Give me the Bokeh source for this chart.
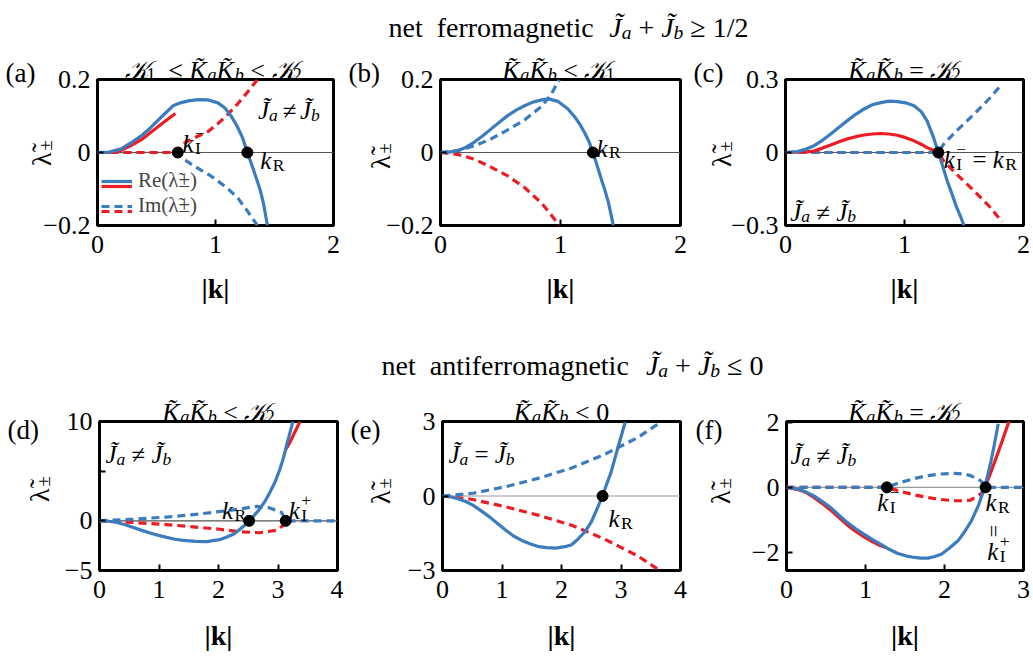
import math
from bokeh.plotting import figure
from bokeh.models import (Range1d, FixedTicker, Label, Span, Legend, LegendItem,
                          GridBox, Spacer)
from bokeh.embed import file_html
from bokeh.resources import INLINE

SERIF = "Liberation Serif"
BLUE = "#3b7cbf"
RED = "#ec1c24"

# ---------------- data ----------------
# (a)
a_re_blue_k = [0, 0.10, 0.20, 0.30, 0.38, 0.45, 0.55, 0.64, 0.70, 0.78, 0.86, 0.94, 1.02, 1.08, 1.13, 1.18, 1.23, 1.27, 1.32, 1.38, 1.41, 1.44]
a_re_blue_v = [0, 0.001, 0.010, 0.030, 0.048, 0.068, 0.100, 0.128, 0.136, 0.142, 0.145, 0.144, 0.136, 0.122, 0.101, 0.074, 0.040, 0.0, -0.045, -0.104, -0.145, -0.200]
a_re_red_k = [0, 0.10, 0.20, 0.30, 0.38, 0.45, 0.55, 0.66]
a_re_red_v = [0, 0.0005, 0.006, 0.022, 0.037, 0.055, 0.080, 0.107]
a_im_red_k = [0, 0.68, 0.72, 0.78, 0.86, 0.94, 1.02, 1.10, 1.19, 1.27, 1.355]
a_im_red_v = [0, 0, 0.022, 0.034, 0.046, 0.058, 0.079, 0.103, 0.134, 0.165, 0.200]
a_im_blue_k = [0, 0.68, 0.73, 0.80, 0.87, 0.95, 1.02, 1.10, 1.19, 1.27, 1.355]
a_im_blue_v = [0, 0, -0.018, -0.033, -0.047, -0.062, -0.078, -0.098, -0.125, -0.160, -0.200]
a_dot_k = [0.68, 1.27]
a_dot_v = [0, 0]

# (b)
b_re_k = [0, 0.07, 0.14, 0.21, 0.28, 0.35, 0.42, 0.49, 0.56, 0.63, 0.70, 0.77, 0.84, 0.90, 0.98, 1.06, 1.12, 1.16, 1.20, 1.24, 1.27, 1.30, 1.34, 1.37, 1.40, 1.42, 1.44]
b_re_v = [0, 0.001, 0.005, 0.014, 0.028, 0.045, 0.064, 0.083, 0.101, 0.116, 0.128, 0.138, 0.144, 0.147, 0.140, 0.120, 0.097, 0.078, 0.055, 0.028, 0, -0.030, -0.073, -0.103, -0.138, -0.168, -0.200]
b_im_k = [0, 0.14, 0.28, 0.42, 0.56, 0.70, 0.84, 0.92, 0.99]
b_im_blue_v = [0, 0.005, 0.018, 0.037, 0.062, 0.089, 0.126, 0.158, 0.200]
b_im_red_v = [0, -0.005, -0.018, -0.040, -0.064, -0.096, -0.138, -0.170, -0.200]
b_dot_k = [1.27]
b_dot_v = [0]

# (c)
c_re_blue_k = [0, 0.10, 0.17, 0.24, 0.31, 0.38, 0.45, 0.52, 0.59, 0.66, 0.73, 0.80, 0.87, 0.94, 1.01, 1.08, 1.14, 1.19, 1.245, 1.285, 1.32, 1.36, 1.40, 1.44, 1.47, 1.50]
c_re_blue_v = [0, 0.004, 0.013, 0.028, 0.050, 0.076, 0.104, 0.131, 0.157, 0.179, 0.196, 0.205, 0.211, 0.209, 0.204, 0.192, 0.168, 0.130, 0.060, 0.0, -0.055, -0.118, -0.172, -0.228, -0.262, -0.300]
c_re_red_k = [0, 0.17, 0.24, 0.31, 0.38, 0.45, 0.52, 0.59, 0.66, 0.73, 0.80, 0.87, 0.94, 1.01, 1.08, 1.14, 1.19, 1.24, 1.285]
c_re_red_v = [0, 0.002, 0.006, 0.018, 0.031, 0.044, 0.056, 0.065, 0.072, 0.076, 0.078, 0.076, 0.071, 0.061, 0.048, 0.034, 0.020, 0.009, 0.0]
c_im_k = [0, 1.285, 1.33, 1.44, 1.58, 1.72, 1.82]
c_im_blue_v = [0, 0, 0.035, 0.090, 0.155, 0.225, 0.282]
c_im_red_v = [0, 0, -0.035, -0.090, -0.155, -0.225, -0.285]
c_dot_k = [1.285]
c_dot_v = [0]

# (d)
d_re_blue_k = [0, 0.15, 0.30, 0.43, 0.57, 0.71, 0.85, 0.99, 1.13, 1.27, 1.41, 1.62, 1.80, 2.02, 2.13, 2.25, 2.33, 2.40, 2.46, 2.515, 2.60, 2.69, 2.78, 2.86, 2.95, 3.03, 3.09, 3.14, 3.20, 3.25]
d_re_blue_v = [0, -0.04, -0.17, -0.40, -0.67, -0.96, -1.23, -1.46, -1.67, -1.85, -1.97, -2.07, -2.10, -1.90, -1.65, -1.35, -1.0, -0.65, -0.35, 0, 0.55, 1.17, 1.95, 2.83, 3.9, 5.17, 6.3, 7.5, 8.85, 10.0]
d_re_red_k = [3.13, 3.20, 3.28, 3.37]
d_re_red_v = [7.2, 7.9, 8.9, 10.0]
d_im_blue_k = [0, 0.57, 1.13, 1.69, 2.25, 2.64, 2.86, 3.06, 3.13, 4.0]
d_im_blue_v = [0, 0.17, 0.38, 0.70, 1.10, 1.45, 1.30, 0.85, 0, 0]
d_im_red_k = [0, 0.57, 1.13, 1.69, 2.02, 2.36, 2.69, 2.97, 3.08, 3.13]
d_im_red_v = [0, -0.17, -0.38, -0.67, -0.85, -1.10, -1.20, -0.95, -0.50, 0]
d_dot_k = [2.515, 3.13]
d_dot_v = [0, 0]

# (e)
e_re_k = [0, 0.12, 0.24, 0.38, 0.51, 0.65, 0.79, 0.93, 1.07, 1.20, 1.34, 1.48, 1.62, 1.75, 1.90, 2.06, 2.17, 2.28, 2.39, 2.50, 2.61, 2.69, 2.77, 2.83, 2.94, 3.07]
e_re_v = [0, -0.02, -0.10, -0.21, -0.37, -0.60, -0.84, -1.12, -1.39, -1.62, -1.80, -1.93, -2.04, -2.08, -2.10, -2.04, -1.96, -1.73, -1.45, -1.05, -0.45, 0, 0.55, 0.93, 1.88, 2.97]
e_im_k = [0, 0.51, 1.07, 1.62, 2.17, 2.72, 3.28, 3.62]
e_im_blue_v = [0, 0.11, 0.38, 0.72, 1.13, 1.67, 2.35, 2.90]
e_im_red_v = [0, -0.14, -0.44, -0.78, -1.18, -1.73, -2.41, -2.95]
e_dot_k = [2.69]
e_dot_v = [0]

# (f)
f_re_blue_k = [0, 0.136, 0.24, 0.347, 0.45, 0.559, 0.665, 0.771, 0.877, 0.983, 1.09, 1.19, 1.30, 1.41, 1.51, 1.62, 1.70, 1.79, 1.875, 1.96, 2.06, 2.17, 2.255, 2.34, 2.43, 2.51, 2.59, 2.63, 2.68]
f_re_blue_v = [0, -0.05, -0.13, -0.26, -0.43, -0.62, -0.85, -1.08, -1.27, -1.44, -1.60, -1.74, -1.90, -2.03, -2.10, -2.15, -2.17, -2.17, -2.12, -2.05, -1.87, -1.64, -1.36, -1.03, -0.55, 0, 0.82, 1.3, 1.95]
f_re_red1_k = [0, 0.136, 0.24, 0.347, 0.45, 0.559, 0.665, 0.771, 0.877, 0.983, 1.09, 1.19, 1.27]
f_re_red1_v = [0, -0.06, -0.15, -0.31, -0.49, -0.70, -0.93, -1.16, -1.35, -1.52, -1.67, -1.79, -1.85]
f_re_red2_k = [2.51, 2.58, 2.65, 2.73, 2.82]
f_re_red2_v = [0, 0.42, 0.88, 1.42, 2.05]
f_im_blue_k = [0, 1.27, 1.44, 1.62, 1.78, 1.95, 2.12, 2.25, 2.33, 2.46, 2.52, 3.0]
f_im_blue_v = [0, 0, 0.15, 0.27, 0.36, 0.41, 0.43, 0.41, 0.36, 0.20, 0, 0]
f_im_red_k = [0, 1.27, 1.44, 1.62, 1.78, 1.95, 2.12, 2.25, 2.33, 2.46, 2.52]
f_im_red_v = [0, 0, -0.12, -0.23, -0.31, -0.37, -0.41, -0.41, -0.39, -0.20, 0]
f_dot_k = [1.27, 2.52]
f_dot_v = [0, 0]

# tick values and labels
ab_yticks = [-0.2, 0, 0.2]
ab_ylabels = ["−0.2", "0", "0.2"]
c_yticks = [-0.3, 0, 0.3]
c_ylabels = ["−0.3", "0", "0.3"]
d_yticks = [-5, 0, 5, 10]
d_ylabels = ["−5", "0", "", "10"]
e_yticks = [-3, 0, 3]
e_ylabels = ["−3", "0", "3"]
f_yticks = [-2, 0, 2]
f_ylabels = ["−2", "0", "2"]
x2_ticks = [0, 1, 2]
x3_ticks = [0, 1, 2, 3]
x4_ticks = [0, 1, 2, 3, 4]

# ---------------- geometry (pixels) ----------------
COL_W = [343, 345, 342]
TOTAL_W = sum(COL_W)
SP1, SP2 = 40, 55
ROW1 = dict(top=39, fh=146, bottom=95)
ROW2 = dict(top=46, fh=149, bottom=90)
ROW1_H = ROW1["top"] + ROW1["fh"] + ROW1["bottom"]
ROW2_H = ROW2["top"] + ROW2["fh"] + ROW2["bottom"]
TOTAL_H = SP1 + ROW1_H + SP2 + ROW2_H

# ---------------- text helpers ----------------
NB = "\u00a0"
CW = {" ": .25, NB: .25, "n": .5, "e": .444, "t": .278, "f": .333, "r": .333, "o": .5,
      "m": .778, "a": .5, "g": .5, "i": .278, "c": .444, "k": .5, "b": .5,
      "K": .70, "J": .44, "R": .667, "I": .333, "(": .333, ")": .333,
      "+": .564, "=": .564, "<": .564, "≤": .549, "≥": .549, "≠": .549,
      "−": .564, "/": .278, "𝒦": .82, "λ": .55, "±": .564, "\u0303": 0.0, "\u2009": .17}


def tw(s, size):
    return sum(CW.get(ch, 0.5) for ch in s) * size


def mt(p, x, y, parts, size=25, align="left", xo=0.0, yo=0.0):
    placed = []
    cur = 0.0
    prev = (0.0, 0.0)
    for text, role in parts:
        small = role not in ("r", "i")
        s = size * 0.7 if small else size
        w = tw(text, s)
        if role == "supo":
            sx = prev[0]
            cur = prev[0] + max(prev[1], w)
        else:
            sx = cur
            cur = sx + w
        if role in ("sub", "subi"):
            dy = -0.17 * size
        elif role in ("sup", "supo"):
            dy = 0.40 * size
        else:
            dy = 0.0
        placed.append((text, role, s, sx, dy))
        prev = (sx, w)
    shift = {"left": 0.0, "center": -cur / 2, "right": -cur}[align]
    for text, role, s, sx, dy in placed:
        p.add_layout(Label(x=x, y=y, x_offset=xo + shift + sx, y_offset=yo + dy,
                           text=text.replace(" ", NB),
                           text_font=SERIF, text_font_size=f"{s:.1f}px",
                           text_font_style="italic" if role in ("i", "subi") else "normal",
                           text_align="left", text_baseline="alphabetic", text_color="#000000"))


def ylab(p, cx, cy):
    s1, s2 = 28, 19
    w1 = 0.55 * s1
    start = -(w1 + 0.6 * s2) / 2
    p.add_layout(Label(x=cx, y=cy, x_offset=9, y_offset=start, text="λ\u0303", angle=math.pi / 2,
                       text_font=SERIF, text_font_size=f"{s1}px", text_align="left",
                       text_baseline="alphabetic", text_color="#000000"))
    p.add_layout(Label(x=cx, y=cy, x_offset=13, y_offset=start + w1, text="±", angle=math.pi / 2,
                       text_font=SERIF, text_font_size=f"{s2}px", text_align="left",
                       text_baseline="alphabetic", text_color="#000000"))


def no_align(p):
    if "frame_align" in p.properties():
        p.frame_align = False
    return p


def panel(xr, yr, xt, yt, ylabels, rowspec, ml, fw, zero_color, xstand, lstand, colw):
    p = figure(width=colw, height=rowspec["top"] + rowspec["fh"] + rowspec["bottom"],
               x_range=Range1d(*xr), y_range=Range1d(*yr),
               output_backend="svg", toolbar_location=None,
               min_border_left=ml, min_border_right=colw - ml - fw,
               min_border_top=rowspec["top"], min_border_bottom=rowspec["bottom"])
    no_align(p)
    p.title.visible = False
    p.border_fill_color = None
    p.xgrid.visible = False
    p.ygrid.visible = False
    p.outline_line_color = "black"
    p.outline_line_width = 3
    p.xaxis.ticker = FixedTicker(ticks=xt)
    p.yaxis.ticker = FixedTicker(ticks=yt)
    p.xaxis.major_label_overrides = {t: str(t) for t in xt}
    p.yaxis.major_label_overrides = dict(zip(yt, ylabels))
    for ax in (p.xaxis[0], p.yaxis[0]):
        ax.axis_line_color = None
        ax.major_tick_in = 6
        ax.major_tick_out = 0
        ax.major_tick_line_width = 2
        ax.major_tick_line_color = "black"
        ax.minor_tick_line_color = None
        ax.major_label_text_font = SERIF
        ax.major_label_text_font_size = "26px"
        ax.major_label_text_color = "black"
    p.yaxis.major_label_standoff = 7
    p.xaxis.major_label_standoff = xstand
    p.xaxis.axis_label = "|k|"
    p.xaxis.axis_label_text_font = SERIF
    p.xaxis.axis_label_text_font_size = "28px"
    p.xaxis.axis_label_text_font_style = "bold"
    p.xaxis.axis_label_text_color = "black"
    p.xaxis.axis_label_standoff = lstand
    zero = Span(location=0, dimension="width", line_color=zero_color, line_width=1.2)
    zero.level = "underlay"
    p.add_layout(zero)
    return p


def sol(p, k, v, c):
    return p.line(k, v, line_color=c, line_width=3.2)


def das(p, k, v, c):
    return p.line(k, v, line_color=c, line_width=3.2, line_dash="8 5")


def dots(p, k, v):
    p.scatter(k, v, size=11, color="black")


KAKB = [("K\u0303", "i"), ("a", "subi"), ("K\u0303", "i"), ("b", "subi")]
JNE = [("J\u0303", "i"), ("a", "subi"), (" ≠ ", "r"), ("J\u0303", "i"), ("b", "subi")]
KR = [("k", "i"), ("R", "sub")]

# ---------------- (a) ----------------
pa = panel((0, 2), (-0.2, 0.2), x2_ticks, ab_yticks, ab_ylabels, ROW1, 97, 236, "#555555", 10, 17, COL_W[0])
a_ib = das(pa, a_im_blue_k, a_im_blue_v, BLUE)
a_ir = das(pa, a_im_red_k, a_im_red_v, RED)
a_rr = sol(pa, a_re_red_k, a_re_red_v, RED)
a_rb = sol(pa, a_re_blue_k, a_re_blue_v, BLUE)
dots(pa, a_dot_k, a_dot_v)
mt(pa, 1.36, 0.115, [("J\u0303", "i"), ("a", "subi"), ("\u2009≠\u2009", "r"), ("J\u0303", "i"), ("b", "subi")], size=25)
mt(pa, 0.72, 0.025, [("k", "i"), ("I", "sub"), ("−", "supo")], size=25)
mt(pa, 1.38, -0.022, KR, size=25)
for items, loc in (([("Re(λ\u0303±)", a_rb), ("Im(λ\u0303±)", a_ib)], (4, 7)),
                   ([(NB, a_rr), (NB, a_ir)], (4, 2))):
    pa.add_layout(Legend(items=[LegendItem(label=t, renderers=[r]) for t, r in items],
                         location=loc, background_fill_alpha=0, border_line_color=None,
                         label_text_font=SERIF, label_text_font_size="21px",
                         glyph_width=31, glyph_height=20, label_standoff=6, label_height=20,
                         spacing=0, padding=0, margin=0))

# ---------------- (b) ----------------
pb = panel((0, 2), (-0.2, 0.2), x2_ticks, ab_yticks, ab_ylabels, ROW1, 97, 240, "#555555", 10, 17, COL_W[1])
das(pb, b_im_k, b_im_red_v, RED)
das(pb, b_im_k, b_im_blue_v, BLUE)
sol(pb, b_re_k, b_re_v, BLUE)
dots(pb, b_dot_k, b_dot_v)
mt(pb, 1.30, 0.012, KR, size=25)

# ---------------- (c) ----------------
pc = panel((0, 2), (-0.3, 0.3), x2_ticks, c_yticks, c_ylabels, ROW1, 97, 238, "#555555", 10, 17, COL_W[2])
das(pc, c_im_k, c_im_red_v, RED)
das(pc, c_im_k, c_im_blue_v, BLUE)
sol(pc, c_re_red_k, c_re_red_v, RED)
sol(pc, c_re_blue_k, c_re_blue_v, BLUE)
dots(pc, c_dot_k, c_dot_v)
mt(pc, 1.33, -0.03, [("k", "i"), ("I", "sub"), ("−", "supo"), (" = ", "r"), ("k", "i"), ("R", "sub")], size=25)
mt(pc, 0.04, -0.245, JNE, size=25)

# ---------------- (d) ----------------
pd_ = panel((0, 4), (-5, 10), x4_ticks, d_yticks, d_ylabels, ROW2, 99, 238, "#555555", 10, 19, COL_W[0])
das(pd_, d_im_red_k, d_im_red_v, RED)
das(pd_, d_im_blue_k, d_im_blue_v, BLUE)
sol(pd_, d_re_red_k, d_re_red_v, RED)
sol(pd_, d_re_blue_k, d_re_blue_v, BLUE)
dots(pd_, d_dot_k, d_dot_v)
mt(pd_, 0.1, 6.7, JNE, size=25)
mt(pd_, 2.06, 1.0, KR, size=25)
mt(pd_, 3.18, 1.0, [("k", "i"), ("I", "sub"), ("+", "supo")], size=25)

# ---------------- (e) ----------------
pe = panel((0, 4), (-3, 3), x4_ticks, e_yticks, e_ylabels, ROW2, 99, 238, "#999999", 10, 19, COL_W[1])
das(pe, e_im_k, e_im_red_v, RED)
das(pe, e_im_k, e_im_blue_v, BLUE)
sol(pe, e_re_k, e_re_v, BLUE)
dots(pe, e_dot_k, e_dot_v)
mt(pe, 0.1, 1.67, [("J\u0303", "i"), ("a", "subi"), (" = ", "r"), ("J\u0303", "i"), ("b", "subi")], size=25)
mt(pe, 2.79, -0.9, KR, size=25)

# ---------------- (f) ----------------
pf = panel((0, 3), (-2.55, 2.02), x3_ticks, f_yticks, f_ylabels, ROW2, 98, 237, "#999999", 10, 19, COL_W[2])
das(pf, f_im_red_k, f_im_red_v, RED)
das(pf, f_im_blue_k, f_im_blue_v, BLUE)
sol(pf, f_re_red1_k, f_re_red1_v, RED)
sol(pf, f_re_red2_k, f_re_red2_v, RED)
sol(pf, f_re_blue_k, f_re_blue_v, BLUE)
dots(pf, f_dot_k, f_dot_v)
mt(pf, 0.05, 0.97, JNE, size=25)
mt(pf, 1.15, -0.47, [("k", "i"), ("I", "sub"), ("−", "supo")], size=25)
mt(pf, 2.52, -0.47, KR, size=25)
pf.add_layout(Label(x=2.62, y=-1.34, text="=", angle=math.pi / 2, text_font=SERIF,
                    text_font_size="22px", text_align="center", text_baseline="middle",
                    text_color="#000000"))
mt(pf, 2.54, -1.97, [("k", "i"), ("I", "sub"), ("+", "supo")], size=25)

# ---------------- transparent text layer (titles, panel letters, y labels) ----------------
ov = figure(width=TOTAL_W, height=TOTAL_H, x_range=Range1d(0, TOTAL_W), y_range=Range1d(TOTAL_H, 0),
            x_axis_type=None, y_axis_type=None, toolbar_location=None, output_backend="svg",
            min_border=0)
no_align(ov)
ov.title.visible = False
ov.outline_line_color = None
ov.background_fill_color = None
ov.border_fill_color = None
ov.grid.visible = False

JSUM = [("J\u0303", "i"), ("a", "subi"), (" + ", "r"), ("J\u0303", "i"), ("b", "subi")]
mt(ov, 568, 27, [("net  ferromagnetic  ", "r")] + JSUM + [(" ≥ 1/2", "r")], size=28, align="center")
mt(ov, 572, 365, [("net  antiferromagnetic  ", "r")] + JSUM + [(" ≤ 0", "r")], size=28, align="center")

subtitles = [
    (213, 70, [("𝒦", "i"), ("1", "sub"), ("  ≤ ", "r")] + KAKB + [(" < ", "r"), ("𝒦", "i"), ("2", "sub")]),
    (558, 70, KAKB + [(" < ", "r"), ("𝒦", "i"), ("1", "sub")]),
    (904, 70, KAKB + [(" = ", "r"), ("𝒦", "i"), ("2", "sub")]),
    (218, 412, KAKB + [(" < ", "r"), ("𝒦", "i"), ("2", "sub")]),
    (561, 412, KAKB + [(" < 0", "r")]),
    (904, 412, KAKB + [(" = ", "r"), ("𝒦", "i"), ("2", "sub")]),
]
for cx, by, parts in subtitles:
    mt(ov, cx, by, parts, size=26, align="center")

letters = [("(a)", 5, 72), ("(b)", 348, 72), ("(c)", 693, 72),
           ("(d)", 7, 429), ("(e)", 350, 429), ("(f)", 695, 429)]
for t, lx, ly in letters:
    mt(ov, lx, ly, [(t, "r")], size=27)

for cx, cy in ((32, 152), (371, 155), (712, 153), (30, 488), (371, 490), (711, 490)):
    ylab(ov, cx, cy)

grid = GridBox(children=[
    (Spacer(width=TOTAL_W, height=SP1), 0, 0, 1, 3),
    (pa, 1, 0), (pb, 1, 1), (pc, 1, 2),
    (Spacer(width=TOTAL_W, height=SP2), 2, 0, 1, 3),
    (pd_, 3, 0), (pe, 3, 1), (pf, 3, 2),
    (ov, 0, 0, 4, 3),
])
open("out.html", "w").write(file_html(grid, INLINE))
